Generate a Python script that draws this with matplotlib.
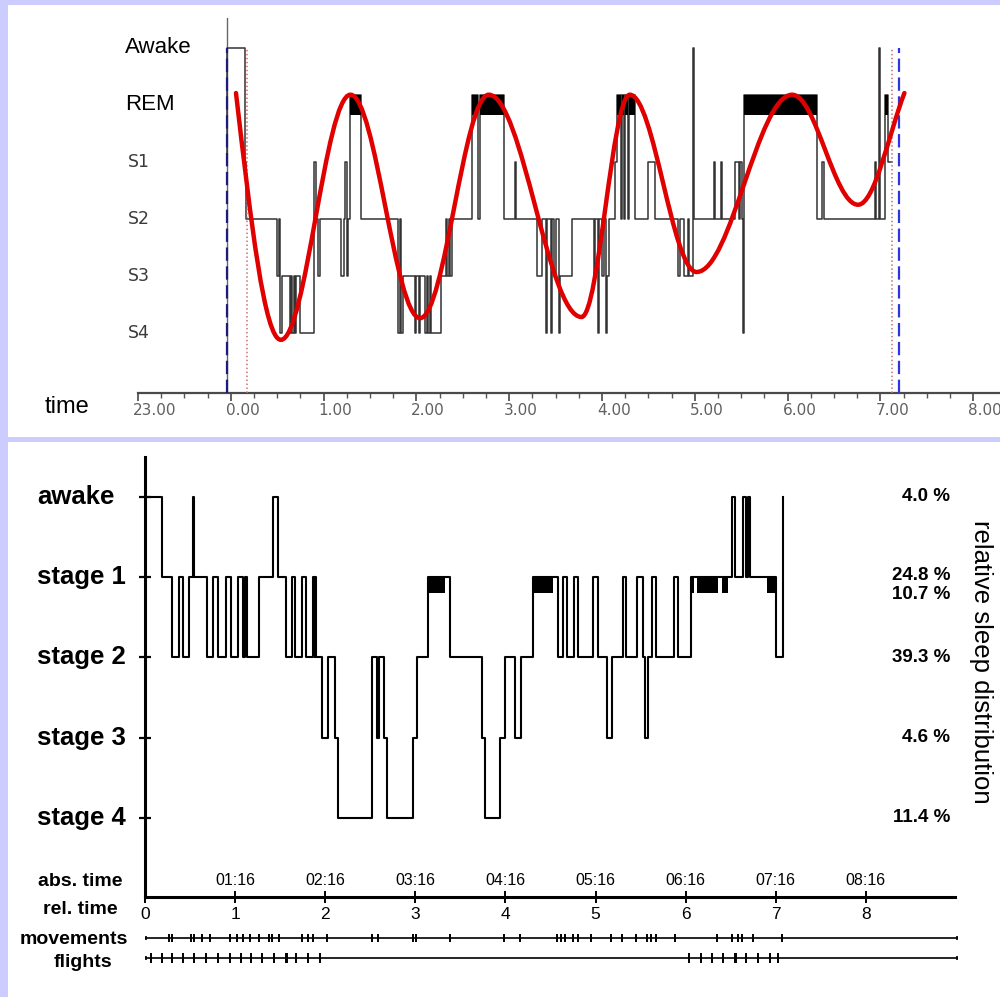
import matplotlib

matplotlib.use("Agg")
import matplotlib.pyplot as plt
from matplotlib.patches import PathPatch, Rectangle
from matplotlib.path import Path
from matplotlib.transforms import blended_transform_factory

plt.rcParams["font.family"] = ["Liberation Sans", "DejaVu Sans"]

W, H = 1000, 997

# ---- top panel: hypnogram with cycle fit (hours after midnight) ----
TOP_T = [-0.046, -0.036, 0.148, 0.164, 0.498, 0.519, 0.530, 0.552, 0.638, 0.649,
         0.659, 0.681, 0.692, 0.708, 0.746, 0.902, 0.913, 0.945, 0.961, 1.188,
         1.220, 1.236, 1.252, 1.268, 1.284, 1.403, 1.802, 1.823, 1.834, 1.856,
         1.985, 1.996, 2.028, 2.039, 2.093, 2.114, 2.125, 2.147, 2.157, 2.265,
         2.319, 2.330, 2.351, 2.362, 2.384, 2.599, 2.669, 2.685, 2.944, 3.063,
         3.079, 3.300, 3.354, 3.402, 3.413, 3.456, 3.467, 3.483, 3.505, 3.542,
         3.553, 3.677, 3.914, 3.930, 3.957, 3.973, 4.000, 4.022, 4.043, 4.059,
         4.075, 4.140, 4.162, 4.210, 4.221, 4.243, 4.253, 4.280, 4.291, 4.361,
         4.496, 4.571, 4.819, 4.841, 4.884, 4.927, 4.938, 4.986, 4.997, 5.207,
         5.218, 5.288, 5.299, 5.433, 5.476, 5.487, 5.514, 5.524, 5.535, 6.319,
         6.376, 6.392, 6.942, 6.958, 6.985, 7.001, 7.055, 7.082, 7.125]
TOP_STAGE = ["1", "W", "1", "2", "3", "2", "4", "3", "4", "3",
             "4", "3", "4", "3", "4", "1", "2", "3", "2", "3",
             "2", "1", "3", "2", "R", "2", "4", "2", "4", "3",
             "4", "3", "4", "3", "4", "3", "4", "3", "4", "3",
             "2", "3", "2", "3", "2", "R", "2", "R", "2", "1",
             "2", "3", "2", "4", "2", "4", "2", "3", "2", "4",
             "3", "2", "3", "2", "4", "2", "3", "2", "4", "3",
             "2", "1", "R", "2", "R", "2", "R", "2", "R", "2",
             "1", "2", "3", "2", "3", "2", "3", "W", "2", "1",
             "2", "1", "2", "1", "2", "1", "2", "4", "R", "2",
             "1", "2", "1", "2", "W", "2", "R", "1", "1"]
TOP_LABELS = ["Awake", "REM", "S1", "S2", "S3", "S4"]
TOP_LABEL_POS = [5, 4, 3, 2, 1, 0]
TOP_LEVEL = {"W": 5, "R": 4.175, "1": 3, "2": 2, "3": 1, "4": 0}
REM_BAR = (3.825, 4.175)

# extrema of the fitted cycle curve (plus its visible start and end)
FIT_T = [0.056, 0.54, 1.29, 2.04, 2.78, 3.78, 4.30, 5.02, 6.05, 6.76, 7.26]
FIT_V = [4.21, -0.12, 4.18, 0.26, 4.18, 0.28, 4.18, 1.07, 4.18, 2.25, 4.21]
FIT_START_SLOPE = -14.0
FIT_END_SLOPE = 4.2

LIGHTS_T = [-0.046, 7.206]      # blue dashed
SLEEP_T = [0.175, 7.125]        # red dotted
FRAME_T = -0.041                 # grey vertical
TOP_HOURS = [-1, 0, 1, 2, 3, 4, 5, 6, 7, 8]
TOP_HOUR_LABELS = ["23.00", "0.00", "1.00", "2.00", "3.00", "4.00",
                   "5.00", "6.00", "7.00", "8.00"]

# ---- bottom panel: hypnogram (hours after lights off) ----
BOT_T = [0.0, 0.185, 0.296, 0.38, 0.42, 0.49, 0.53, 0.54, 0.69, 0.76,
         0.815, 0.9, 0.95, 1.036, 1.084, 1.11, 1.135, 1.27, 1.417, 1.48,
         1.56, 1.635, 1.67, 1.746, 1.785, 1.868, 1.882, 1.888, 1.898, 1.96,
         2.035, 2.11, 2.146, 2.523, 2.571, 2.597, 2.653, 2.682, 2.978, 3.015,
         3.144, 3.385, 3.737, 3.774, 3.94, 3.996, 4.107, 4.17, 4.31, 4.587,
         4.643, 4.68, 4.761, 4.809, 4.976, 5.03, 5.13, 5.18, 5.3, 5.338,
         5.457, 5.53, 5.546, 5.58, 5.63, 5.672, 5.871, 5.919, 6.057, 6.518,
         6.548, 6.64, 6.666, 6.689, 6.715, 7.003, 7.084]
BOT_STAGE = ["W", "1", "2", "1", "2", "1", "W", "1", "2", "1",
             "2", "1", "2", "1", "2", "1", "2", "1", "W", "1",
             "2", "1", "2", "1", "2", "1", "2", "1", "2", "3",
             "2", "3", "4", "2", "3", "2", "3", "4", "3", "2",
             "1", "2", "3", "4", "3", "2", "3", "2", "1", "2",
             "1", "2", "1", "2", "1", "2", "3", "2", "1", "2",
             "1", "2", "3", "2", "1", "2", "1", "2", "1", "W",
             "1", "W", "1", "W", "1", "2", "W"]
BOT_LABELS = ["awake", "stage 1", "stage 2", "stage 3", "stage 4"]
BOT_LEVEL = {"W": 4, "1": 3, "2": 2, "3": 1, "4": 0}
BOT_REM_START = [3.144, 4.31, 6.057, 6.128, 6.40, 6.90]
BOT_REM_END = [3.329, 4.525, 6.093, 6.362, 6.474, 6.992]
BOT_REM_BAR = (2.80, 3.0)
PCT_LABELS = ["4.0 %", "24.8 %", "10.7 %", "39.3 %", "4.6 %", "11.4 %"]
PCT_POS = [4, 3.02, 2.78, 2, 1, 0]
REL_HOURS = [0, 1, 2, 3, 4, 5, 6, 7, 8]
ABS_HOURS = [1, 2, 3, 4, 5, 6, 7, 8]
ABS_LABELS = ["01:16", "02:16", "03:16", "04:16", "05:16", "06:16", "07:16", "08:16"]
MOVEMENTS = [0.266, 0.30, 0.51, 0.54, 0.63, 0.72, 0.94, 1.02, 1.09, 1.17,
             1.26, 1.38, 1.41, 1.49, 1.74, 1.81, 1.87, 2.02, 2.52, 2.59,
             2.97, 3.01, 3.39, 3.98, 4.16, 4.57, 4.62, 4.66, 4.75, 4.81,
             4.95, 5.17, 5.29, 5.45, 5.57, 5.62, 5.67, 5.88, 6.35, 6.51,
             6.58, 6.63, 6.75, 7.07]
FLIGHTS = [0.07, 0.19, 0.30, 0.42, 0.54, 0.68, 0.81, 0.94, 1.06, 1.18,
           1.30, 1.43, 1.56, 1.58, 1.68, 1.81, 1.94, 6.04, 6.17, 6.29,
           6.42, 6.55, 6.56, 6.67, 6.80, 6.94, 7.03]
ROW_LABELS = ["abs. time", "rel. time", "movements", "flights"]


def px_axes(fig, left, top, right, bottom):
    return fig.add_axes([left / W, 1 - bottom / H, (right - left) / W, (bottom - top) / H])


def fit_path(ts, vs):
    k = 0.3634
    verts = [(ts[0], vs[0])]
    codes = [Path.MOVETO]
    last = len(ts) - 2
    for i in range(len(ts) - 1):
        t0, v0, t1, v1 = ts[i], vs[i], ts[i + 1], vs[i + 1]
        dt = t1 - t0
        if i == 0:
            c1 = (t0 + dt / 3, v0 + FIT_START_SLOPE * dt / 3)
        else:
            c1 = (t0 + k * dt, v0)
        if i == last:
            c2 = (t1 - dt / 3, v1 - FIT_END_SLOPE * dt / 3)
        else:
            c2 = (t1 - k * dt, v1)
        verts += [c1, c2, (t1, v1)]
        codes += [Path.CURVE4] * 3
    return Path(verts, codes)


fig = plt.figure(figsize=(W / 100, H / 100), dpi=100)
fig.patch.set_facecolor("#ccccff")
fig.add_artist(Rectangle((8 / W, 1 - 437 / H), 992 / W, 432 / H, transform=fig.transFigure,
                         facecolor="white", edgecolor="none", zorder=0))
fig.add_artist(Rectangle((8 / W, 0), 992 / W, 1 - 442 / H, transform=fig.transFigure,
                         facecolor="white", edgecolor="none", zorder=0))

# ---------------- top panel ----------------
ax = px_axes(fig, 138, 18, 1000, 393)
ax.set_facecolor("none")
ax.set_xlim(-1, 8.29)
ax.set_ylim(-1.053, 5.526)
for side in ("top", "right", "left"):
    ax.spines[side].set_visible(False)
ax.spines["bottom"].set_color("#4a4a4a")
ax.spines["bottom"].set_linewidth(1.6)
ax.set_yticks([])
ax.set_xticks(TOP_HOURS)
ax.set_xticklabels([])
ax.set_xticks([h / 4 for h in range(-4, 33)], minor=True)
ax.tick_params(axis="x", which="major", direction="out", length=6, width=1.3, color="#555555")
ax.tick_params(axis="x", which="minor", direction="out", length=3.5, width=1.0, color="#555555")

ax.axvline(FRAME_T, color="#666666", lw=1.0, zorder=1)
top_y = [TOP_LEVEL[s] for s in TOP_STAGE]
ax.plot(TOP_T, top_y, drawstyle="steps-post", color="#333333", lw=1.1, zorder=2)
for i, s in enumerate(TOP_STAGE[:-1]):
    if s == "R":
        ax.fill_between([TOP_T[i], TOP_T[i + 1]], REM_BAR[0], REM_BAR[1], color="black",
                        lw=0, zorder=2)

blue = ax.vlines(LIGHTS_T, -1.053, 5.0, colors=["#1c1c7a", "#2b35e0"], lw=1.6, zorder=3)
blue.set_linestyle((0, (6, 2.5)))
ax.vlines(SLEEP_T, -1.053, 5.0, colors="#c87070", lw=1.1, linestyles=(0, (1, 1.6)), zorder=3)

ax.add_patch(PathPatch(fit_path(FIT_T, FIT_V), facecolor="none", edgecolor="#e00000",
                       lw=3.2, capstyle="round", zorder=5))

ytr = blended_transform_factory(ax.transAxes, ax.transData)
for name, pos in zip(TOP_LABELS, TOP_LABEL_POS):
    if name in ("Awake", "REM"):
        ax.text(-0.0151, pos, name, transform=ytr, ha="left", va="center", fontsize=16,
                color="black")
    else:
        ax.text(-0.0116, pos, name, transform=ytr, ha="left", va="center", fontsize=12.5,
                color="#3a3a3a", family="DejaVu Sans")
xtr = blended_transform_factory(ax.transData, ax.transAxes)
for h, lab in zip(TOP_HOURS, TOP_HOUR_LABELS):
    ax.text(h - 0.054, -0.046, lab, transform=xtr, ha="left", va="center", fontsize=11,
            color="#606060", family="DejaVu Sans")
fig.text(45 / W, 1 - 407 / H, "time", ha="left", va="center", fontsize=17)

# ---------------- bottom panel ----------------
bx = px_axes(fig, 145, 457, 955, 897)
bx.set_facecolor("none")
bx.set_xlim(0, 8.99)
bx.set_ylim(-0.984, 4.496)
for side in ("top", "right"):
    bx.spines[side].set_visible(False)
for side in ("left", "bottom"):
    bx.spines[side].set_linewidth(2.2)
    bx.spines[side].set_color("black")
bx.set_yticks([0, 1, 2, 3, 4])
bx.set_yticklabels([])
bx.tick_params(axis="y", direction="inout", length=9, width=1.6)
bx.set_xticks(REL_HOURS)
bx.set_xticklabels([str(h) for h in REL_HOURS], fontsize=12.5)
bx.tick_params(axis="x", direction="inout", length=8, width=1.4, pad=3)

bx.plot(BOT_T, [BOT_LEVEL[s] for s in BOT_STAGE], drawstyle="steps-post", color="black",
        lw=1.5, zorder=3)
for t0, t1 in zip(BOT_REM_START, BOT_REM_END):
    bx.fill_between([t0, t1], BOT_REM_BAR[0], BOT_REM_BAR[1], color="black", lw=0, zorder=3)

btr = blended_transform_factory(bx.transAxes, bx.transData)
for name, lvl in zip(BOT_LABELS, [4, 3, 2, 1, 0]):
    bx.text(-0.1333, lvl, name, transform=btr, ha="left", va="center", fontsize=18.5,
            fontweight="bold")
for lab, pos in zip(PCT_LABELS, PCT_POS):
    bx.text(0.994, pos, lab, transform=btr, ha="right", va="center", fontsize=13.5,
            fontweight="bold")
bxt = blended_transform_factory(bx.transData, bx.transAxes)
for h, lab in zip(ABS_HOURS, ABS_LABELS):
    bx.text(h, 0.0386, lab, transform=bxt, ha="center", va="center", fontsize=11.5)

fig.text(981 / W, 1 - 662 / H, "relative sleep distribution", rotation=-90, ha="center",
         va="center", fontsize=18.5)
for lab, xpx, ypx in zip(ROW_LABELS, [80, 80, 74, 83], [882, 909, 939, 962]):
    fig.text(xpx / W, 1 - ypx / H, lab, ha="center", va="center", fontsize=14,
             fontweight="bold")

# movement / flight rows
for top_px, marks, half in ((930, MOVEMENTS, 0.45), (950, FLIGHTS, 0.6)):
    rx = px_axes(fig, 145, top_px, 955, top_px + 16)
    rx.set_xlim(0, 8.99)
    rx.set_ylim(-1, 1)
    rx.axis("off")
    rx.plot([0.01, 9.01], [0, 0], color="black", lw=1.2, clip_on=False)
    rx.vlines([0.01, 9.01], -0.3, 0.3, color="black", lw=1.2, clip_on=False)
    rx.vlines(marks, -half, half, color="black", lw=1.4)

fig.savefig("out.png", dpi=100, facecolor=fig.get_facecolor())
